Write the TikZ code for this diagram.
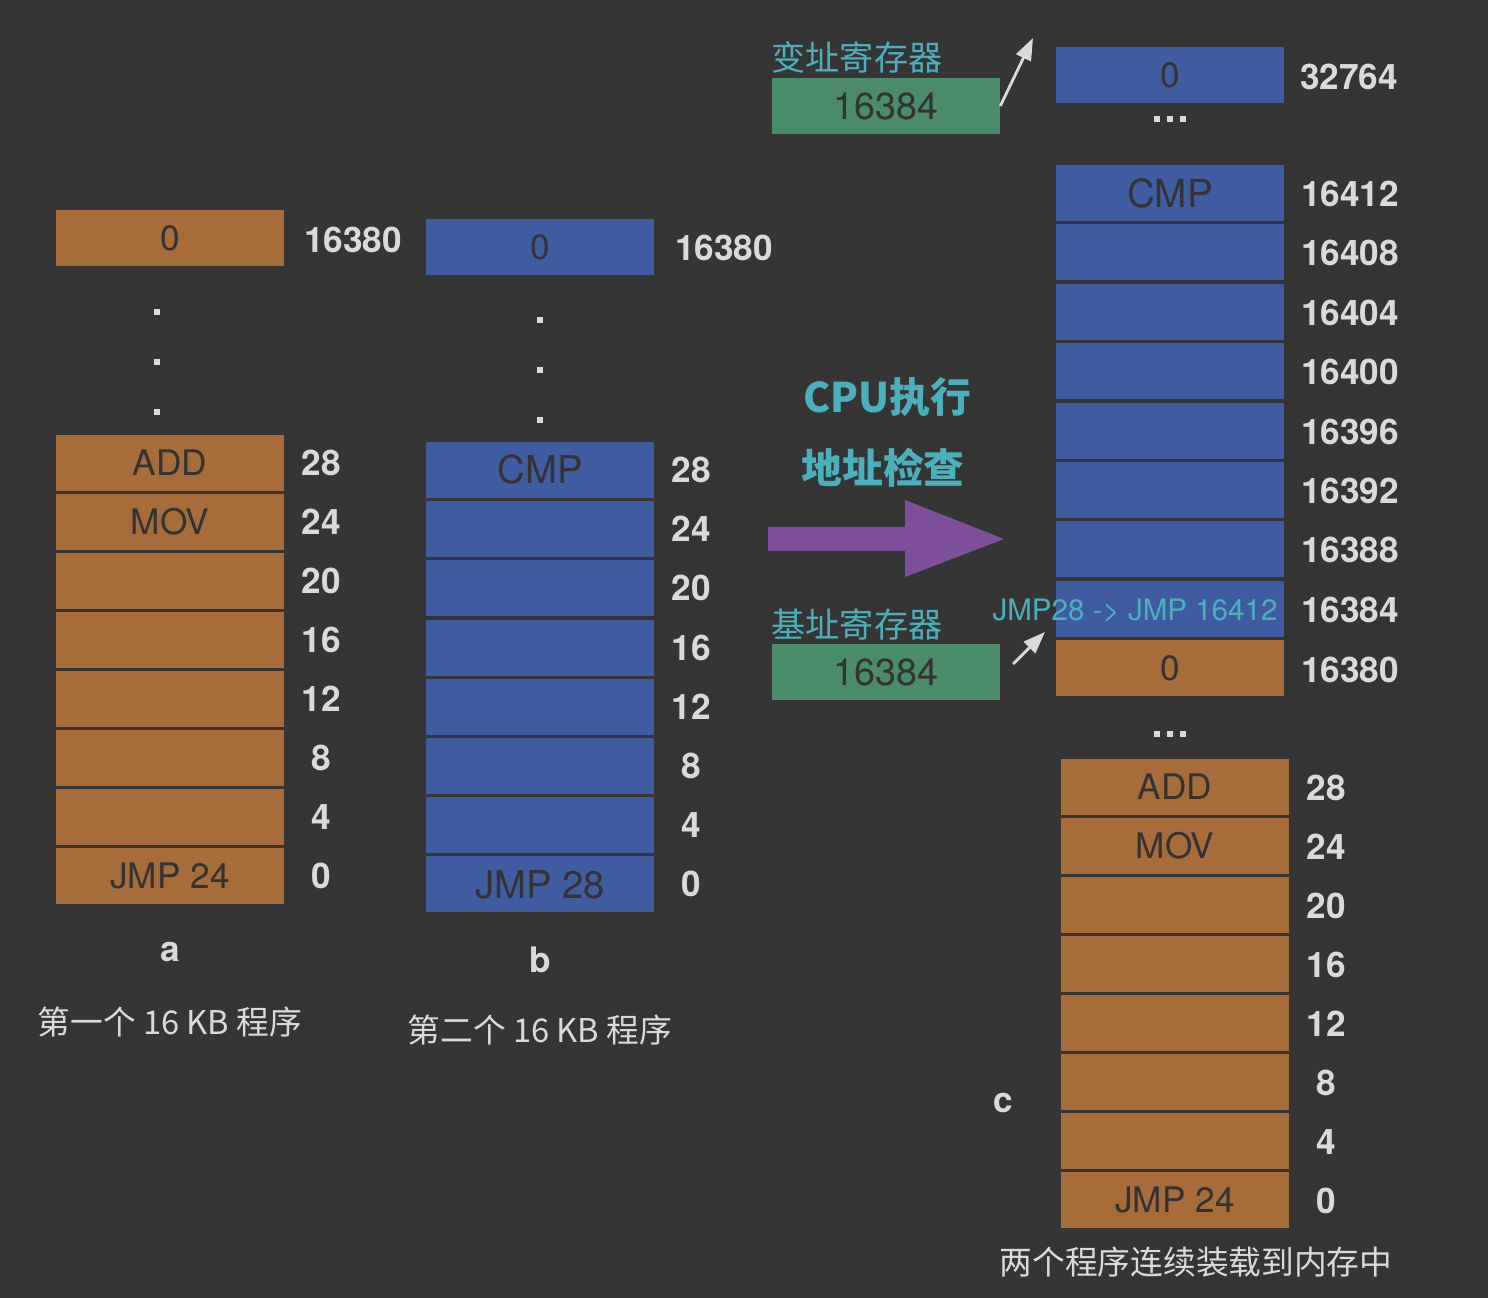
\documentclass[tikz,border=0pt]{standalone}
\usepackage{fontspec}
\setmainfont{TeX Gyre Heros}
\newfontfamily\cjk{Noto Sans CJK SC}
\usepackage{tikz}
\usetikzlibrary{arrows.meta}
\definecolor{pbg}{HTML}{353535}
\definecolor{porange}{HTML}{A66C3A}
\definecolor{pblue}{HTML}{3F5CA0}
\definecolor{pgreen}{HTML}{4A8C69}
\definecolor{pteal}{HTML}{4BB0BC}
\definecolor{ppurple}{HTML}{7E4F9A}
\definecolor{pdark}{HTML}{333333}
\definecolor{plight}{HTML}{DADADA}

\begin{document}
\begin{tikzpicture}[x=0.01cm,y=-0.01cm,
  font=\fontsize{10}{12}\selectfont,
  cellO/.style={fill=porange,text=pdark,minimum width=2.27cm,minimum height=0.56cm,inner sep=0pt},
  cellB/.style={cellO,fill=pblue},
  reg/.style={fill=pgreen,text=pdark,minimum width=2.27cm,minimum height=0.55cm,inner sep=0pt,
              font=\fontsize{10.7}{13}\selectfont},
  addr/.style={text=plight,inner sep=0pt,font=\fontsize{10}{12}\selectfont\bfseries},
  captxt/.style={text=plight,inner sep=0pt,font=\cjk\fontsize{9.3}{11}\selectfont},
  ttl/.style={text=pteal,inner sep=0pt,font=\cjk\fontsize{9.7}{12}\selectfont},
  ptr/.style={-{Triangle[length=2.2mm,width=1.6mm]},draw=plight,thick},
  dot/.style={fill=plight}]
\fill[pbg] (0,0) rectangle (1488,1298);
\useasboundingbox (0,0) rectangle (1488,1298);

% ---- a: first 16 KB program ----------------------------------------------
\node[cellO] (a0) at (170,238) {0};
\node[addr]  (la0) at (353,240) {16380};
\foreach \y in {312,362,412} \fill[dot] (154,\y-3) rectangle ++(6,6);
\foreach \t/\v [count=\i] in {ADD/28,MOV/24,{}/20,{}/16,{}/12,{}/8,{}/4,JMP 24/0}{
  \node[cellO] (a\i) at (170,463+59*\i-59) {\t};
  \node[addr]  (la\i) at (321,463+59*\i-59) {\v};
}
\node[addr] (na) at (170,952) {a};
\node[captxt]  (capa) at (170,1022) {第一个 16 KB 程序};

% ---- b: second 16 KB program ---------------------------------------------
\node[cellB] (b0) at (540,247) {0};
\node[addr]  (lb0) at (724,248) {16380};
\foreach \y in {320,370,420} \fill[dot] (537,\y-3) rectangle ++(6,6);
\foreach \t/\v [count=\i] in {CMP/28,{}/24,{}/20,{}/16,{}/12,{}/8,{}/4,JMP 28/0}{
  \node[cellB,font=\fontsize{10.9}{13}\selectfont] (b\i) at (540,470+59.2*\i-59.2) {\t};
  \node[addr]  (lb\i) at (691,470+59.2*\i-59.2) {\v};
}
\node[addr] (nb) at (540,960) {b};
\node[captxt]  (capb) at (540,1030) {第二个 16 KB 程序};

% ---- CPU runs, address check ---------------------------------------------
\node[ttl,font=\cjk\bfseries\fontsize{11.6}{14}\selectfont] (cpu) at (887,397) {CPU执行};
\node[ttl,font=\cjk\bfseries\fontsize{11.6}{14}\selectfont] (chk) at (883,468) {地址检查};
\fill[ppurple] (768,527) -- (905,527) -- (905,500) -- (1004,539)
  -- (905,577) -- (905,551) -- (768,551) -- cycle;

% ---- registers -----------------------------------------------------------
\node[ttl] (idxl) at (857,57) {变址寄存器};
\node[reg] (idx)  at (886,106) {16384};
\coordinate (idxp) at (1033,38);
\draw[ptr] (idx.east) -- (idxp);
\node[ttl] (basel) at (857,624) {基址寄存器};
\node[reg] (base)  at (886,672) {16384};
\coordinate (bases) at (1013,664);
\coordinate (basep) at (1045,632);
\draw[ptr] (bases) -- (basep);

% ---- c: both programs loaded into memory ---------------------------------
\node[cellB] (c0) at (1170,75) {0};
\node[addr]  (lc0) at (1349,77) {32764};
\foreach \x in {1157,1170,1183} \fill[dot] (\x-3,116) rectangle ++(6,6);
\foreach \t/\v [count=\i] in {CMP/16412,{}/16408,{}/16404,{}/16400,{}/16396,{}/16392,{}/16388,{}/16384}{
  \node[cellB,font=\fontsize{11}{13}\selectfont] (c\i) at (1170,193+59.4*\i-59.4) {\t};
  \node[addr]  (lc\i) at (1350,194+59.4*\i-59.4) {\v};
}
\node[text=pteal,inner sep=0pt,font=\fontsize{8.4}{10}\selectfont] (jmp) at (1135,611) {JMP28 -> JMP 16412};
\node[cellO] (c9) at (1170,668) {0};
\node[addr]  (lc9) at (1350,670) {16380};
\foreach \x in {1157,1170,1183} \fill[dot] (\x-3,731) rectangle ++(6,6);
\foreach \t/\v [count=\i] in {ADD/28,MOV/24,{}/20,{}/16,{}/12,{}/8,{}/4,JMP 24/0}{
  \node[cellO] (d\i) at (1175,787+59*\i-59) {\t};
  \node[addr]  (ld\i) at (1326,788+59*\i-59) {\v};
}
\node[addr] (nc) at (1003,1103) {c};
\node[captxt]  (capc) at (1196,1262) {两个程序连续装载到内存中};
\end{tikzpicture}
\end{document}
